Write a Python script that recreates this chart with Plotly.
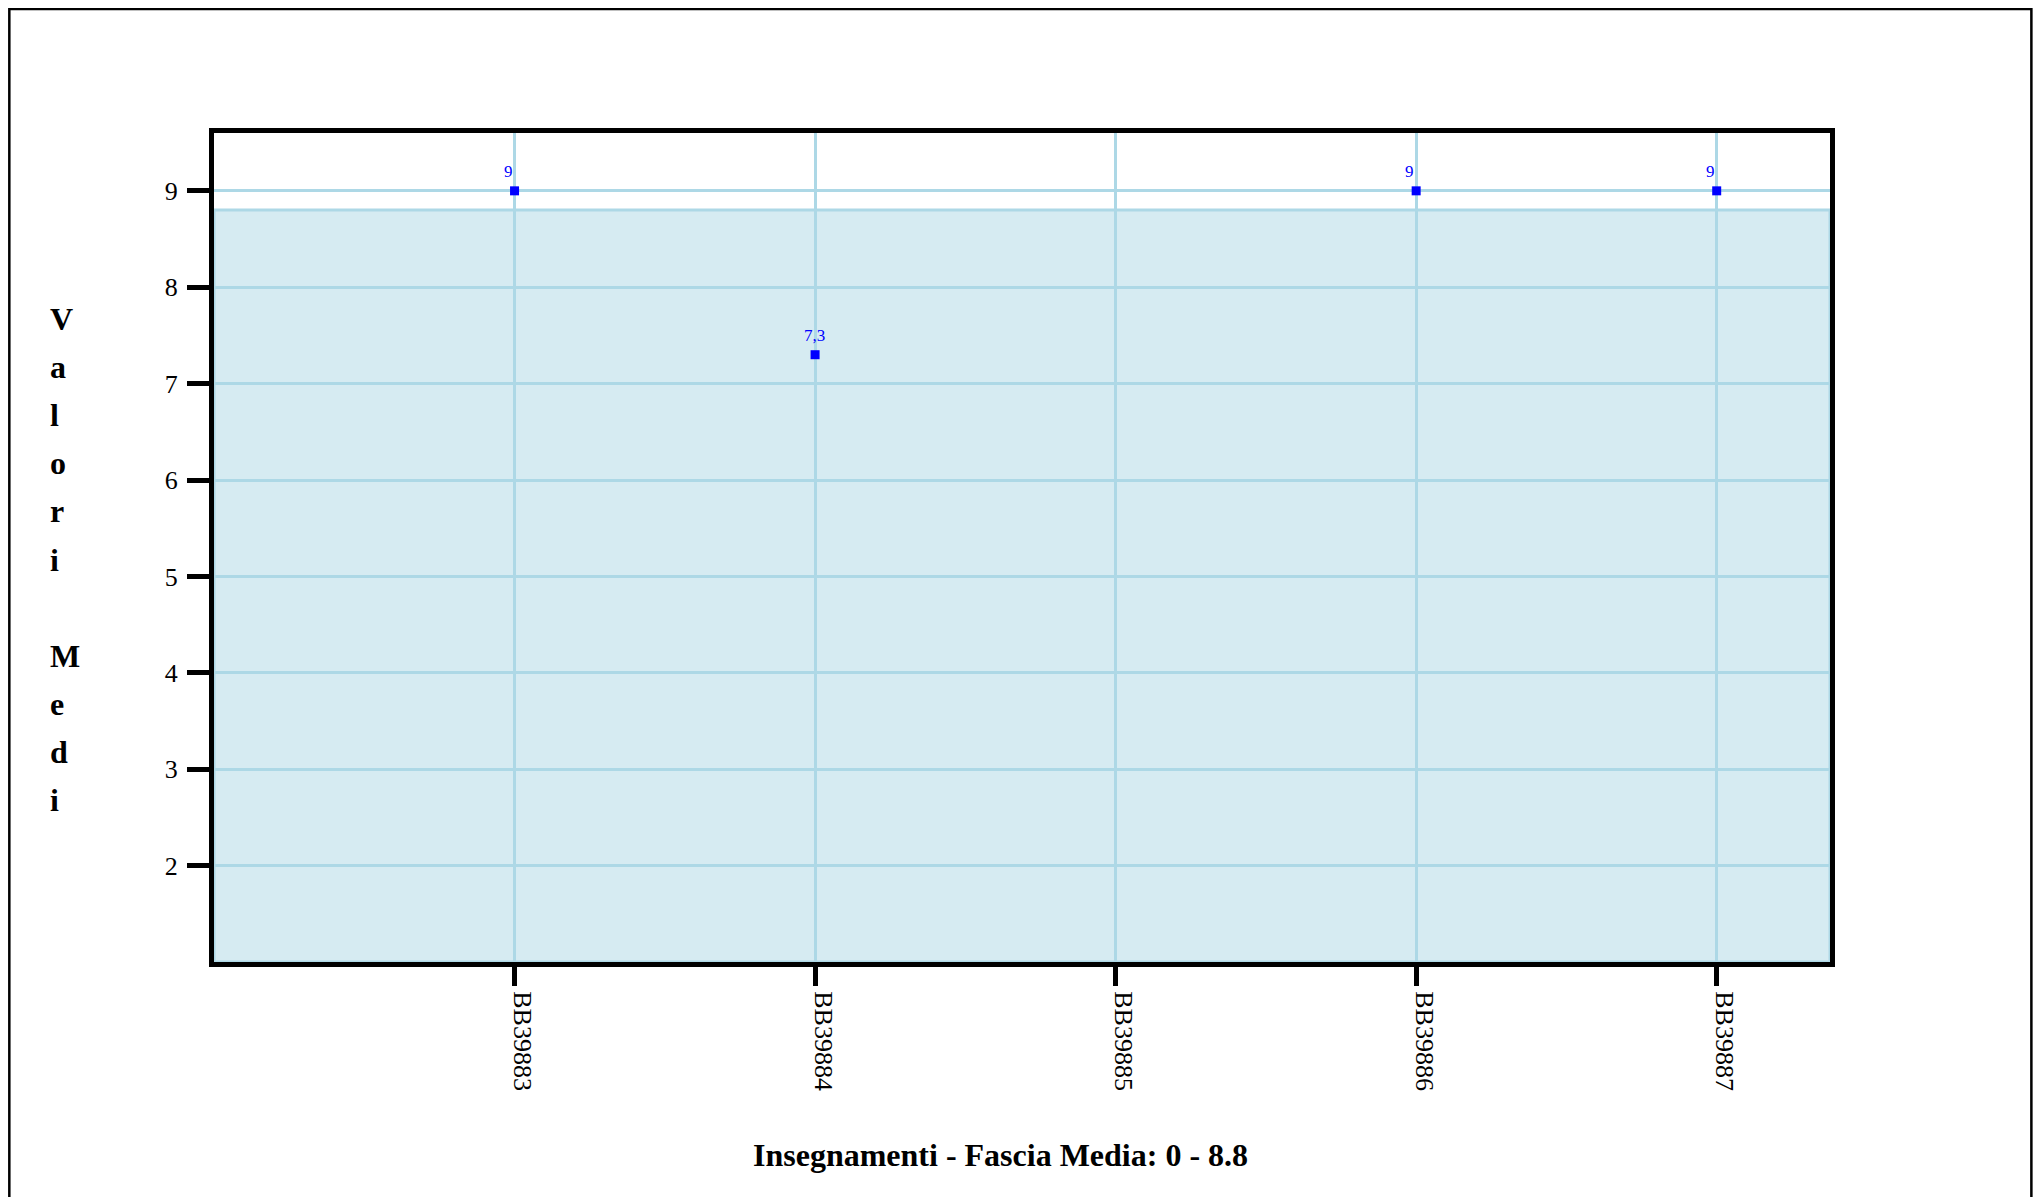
import plotly.graph_objects as go

# ---- data ----
categories = ["BB39883", "BB39884", "BB39885", "BB39886", "BB39887"]
values = [9, 7.3, None, 9, 9]
band_min = 0
band_max = 8.8
y_ticks = [2, 3, 4, 5, 6, 7, 8, 9]
y_title = "Valori Medi"
x_title_prefix = "Insegnamenti - Fascia Media"

# ---- layout constants (figure sits inside an 8px page margin) ----
OFF = 8
W, H = 2043 - OFF, 1197 - OFF
ML, MR, MT, MB = 205.5, 212.5, 125.3, 235.2
PW, PH = W - ML - MR, H - MT - MB
x_range = [-1, 4.377]
y_range = [1, 9.6]
FONT = "Liberation Serif"
GRID = "#ADD8E6"


def px_x(px):  # page pixel -> paper coordinate
    return (px - OFF - ML) / PW


def px_y(py):
    return (H - MB - (py - OFF)) / PH


def fmt(v):
    return f"{v:g}".replace(".", ",")


pts_x = [c for c, v in zip(categories, values) if v is not None]
pts_y = [v for v in values if v is not None]

fig = go.Figure()
fig.add_trace(go.Scatter(
    x=pts_x, y=pts_y, mode="markers",
    marker=dict(symbol="square", size=9, color="#0000FF"),
    hoverinfo="skip", showlegend=False,
))

annotations = []
for cx, cy in zip(pts_x, pts_y):
    annotations.append(dict(
        x=cx, y=cy, xref="x", yref="y", text=fmt(cy), showarrow=False,
        xanchor="left", yanchor="middle", xshift=-13, yshift=19,
        font=dict(family=FONT, size=17, color="#0000FF"),
    ))

# vertical stacked y title
lines = []
for ch in y_title:
    if ch == " ":
        lines.append("&nbsp;")
    else:
        lines.append(f"<span style='font-size:32px'><b>{ch}</b></span>")
annotations.append(dict(
    x=px_x(47), y=px_y(560), xref="paper", yref="paper",
    text="<br>".join(lines), showarrow=False,
    xanchor="left", yanchor="middle", align="left",
    font=dict(family=FONT, size=37, color="black"),
))

# x title
annotations.append(dict(
    x=px_x(1000), y=px_y(1155), xref="paper", yref="paper",
    text=f"<b>{x_title_prefix}: {band_min:g} - {band_max:g}</b>", showarrow=False,
    xanchor="center", yanchor="middle",
    font=dict(family=FONT, size=32, color="black"),
))

shapes = [
    # band
    dict(type="rect", xref="x", yref="y", x0=x_range[0], x1=x_range[1],
         y0=max(band_min, y_range[0]), y1=band_max, layer="below",
         fillcolor="rgba(173,216,230,0.5)", line=dict(color=GRID, width=3)),
    # outer page border
    dict(type="rect", xref="paper", yref="paper",
         x0=px_x(8.7), x1=px_x(2032), y0=px_y(1400), y1=px_y(OFF + 1.3),
         line=dict(color="black", width=2.5), fillcolor="rgba(0,0,0,0)",
         layer="above"),
]

fig.update_layout(
    width=W, height=H,
    margin=dict(l=ML, r=MR, t=MT, b=MB, pad=0),
    paper_bgcolor="white", plot_bgcolor="white",
    showlegend=False, hovermode=False,
    annotations=annotations, shapes=shapes,
    font=dict(family=FONT, color="black"),
)
fig.update_xaxes(
    type="category", categoryorder="array", categoryarray=categories,
    range=x_range, tickmode="array", tickvals=categories, ticktext=categories,
    tickangle=90, tickfont=dict(family=FONT, size=26, color="black"),
    ticklabelshift=8,
    showline=True, linewidth=5, linecolor="black", mirror=True,
    ticks="outside", ticklen=19, tickwidth=5, tickcolor="black",
    showgrid=True, gridcolor=GRID, gridwidth=3, zeroline=False,
)
fig.update_yaxes(
    range=y_range, tickmode="array", tickvals=y_ticks,
    tickfont=dict(family=FONT, size=26, color="black"),
    showline=True, linewidth=5, linecolor="black", mirror=True,
    ticks="outside", ticklen=22, tickwidth=5, tickcolor="black",
    ticklabelstandoff=4,
    showgrid=True, gridcolor=GRID, gridwidth=3, zeroline=False,
)

fig.write_html("out.html", config={"displayModeBar": False})
